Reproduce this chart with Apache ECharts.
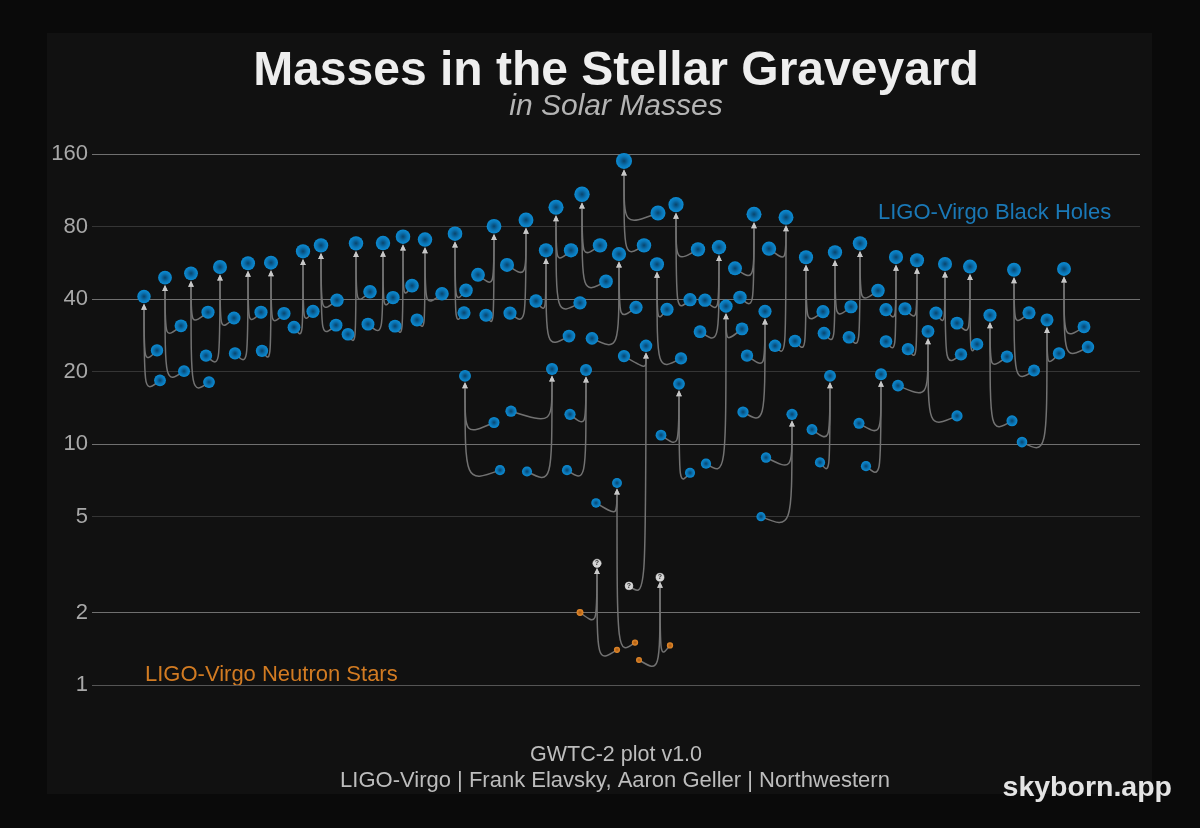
<!DOCTYPE html>
<html>
<head>
<meta charset="utf-8">
<script src="https://cdn.jsdelivr.net/npm/echarts/dist/echarts.min.js"></script>
<style>
  html, body { margin: 0; padding: 0; background: #0a0a0a; }
  #chart { width: 1200px; height: 828px; }
</style>
</head>
<body>
<div id="chart"></div>
<script>
// one entry per merger: final object, then its two progenitors
// positions are layout slots along the (hidden) horizontal axis
const finalPos = [5.2, 7.3, 9.9, 12.8, 15.6, 17.9, 21.1, 22.9, 26.4, 29.1, 31.1, 33.3, 36.3, 40.2, 43.4, 45.4, 46.4, 49.0, 53.2, 52.7, 58.4, 56.5, 46.0, 49.4, 58.7, 52.5, 55.4, 62.7, 66.2, 69.4, 63.4, 67.3, 71.4, 74.3, 76.8, 80.4, 70.0, 73.8, 78.9, 82.5, 85.3, 87.8, 83.6, 89.8, 92.2, 95.5, 97.2, 50.5, 56.8, 37.3]
const finalMass = [41.0, 49.1, 51.2, 54.4, 56.4, 56.7, 63.2, 66.9, 68.2, 68.4, 72.7, 70.7, 74.8, 80.3, 85.3, 63.8, 96.3, 109.0, 149.9, 61.6, 98.7, 55.8, 20.5, 20.3, 17.8, 6.9, 25.6, 65.7, 90.0, 87.5, 37.4, 35.6, 59.7, 62.6, 68.2, 59.8, 13.3, 19.2, 19.5, 58.0, 56.0, 54.6, 29.4, 34.3, 53.0, 32.8, 53.4, 3.2, 2.8, 19.2]
const compAPos = [6.5, 8.9, 11.6, 11.4, 14.3, 17.0, 20.2, 24.5, 25.6, 27.6, 30.3, 32.5, 37.2, 38.6, 41.5, 44.4, 47.9, 50.8, 56.6, 50.0, 60.6, 57.5, 41.9, 47.8, 56.9, 50.4, 53.2, 61.3, 64.3, 67.7, 65.0, 65.5, 70.3, 73.2, 75.7, 79.4, 67.4, 72.0, 76.7, 81.3, 84.4, 86.5, 80.6, 91.5, 93.7, 96.7, 99.2, 48.8, 54.7, 40.2]
const compAMass = [24.5, 31.0, 35.3, 23.3, 23.8, 24.4, 30.6, 39.6, 28.6, 31.5, 30.9, 32.8, 35.1, 50.5, 55.5, 39.3, 63.8, 66.9, 91.2, 27.5, 64.4, 36.3, 13.7, 13.3, 10.9, 5.7, 23.2, 39.6, 53.7, 64.8, 30.1, 23.3, 26.8, 28.9, 27.8, 36.2, 8.8, 11.5, 12.2, 36.5, 35.0, 31.8, 17.5, 23.1, 35.1, 23.8, 30.7, 2.0, 1.27, 12.3]
const compBPos = [6.8, 9.2, 11.7, 14.2, 16.9, 19.2, 22.1, 24.4, 27.8, 30.1, 32.0, 35.0, 37.4, 39.4, 41.8, 47.7, 48.8, 51.4, 55.2, 54.4, 59.8, 58.9, 43.5, 47.5, 59.8, 54.3, 53.7, 60.8, 64.8, 68.3, 61.4, 65.1, 73.1, 75.9, 78.6, 79.4, 66.9, 72.8, 77.4, 81.6, 86.9, 88.5, 86.5, 92.0, 94.2, 93.0, 99.6, 52.5, 57.8, 40.8]
const compBMass = [18.4, 20.1, 18.1, 33.4, 35.3, 34.9, 35.6, 31.2, 42.9, 40.6, 45.5, 42.1, 43.5, 34.3, 35.0, 28.1, 38.6, 47.4, 66.9, 37.0, 39.8, 22.7, 7.7, 7.8, 7.6, 1.5, 2.58, 29.3, 40.7, 25.6, 8.3, 13.6, 35.5, 37.2, 43.4, 26.7, 5.0, 8.4, 8.1, 24.8, 23.6, 26.0, 13.1, 12.5, 20.2, 10.2, 25.3, 1.4, 1.46, 7.8]

const tickMasses = [1, 2, 5, 10, 20, 40, 80, 160]

const FONT = '"Liberation Sans", Arial, sans-serif'

// neutron star / mass-gap / black hole
const kindOf = (m) => (m < 2.2 ? 'ns' : m < 4.5 ? 'gap' : 'bh')
const markerSize = (m) => 6 + 1.38 * Math.log2(m)

const links = []
const points = { bh: [], ns: [], gap: [] }
finalPos.forEach((x, i) => {
  const yf = Math.log2(finalMass[i])
  links.push([compAPos[i], Math.log2(compAMass[i]), x, yf, finalMass[i]])
  links.push([compBPos[i], Math.log2(compBMass[i]), x, yf, finalMass[i]])
  points[kindOf(finalMass[i])].push([x, yf, finalMass[i]])
  points[kindOf(compAMass[i])].push([compAPos[i], Math.log2(compAMass[i]), compAMass[i]])
  points[kindOf(compBMass[i])].push([compBPos[i], Math.log2(compBMass[i]), compBMass[i]])
})

const radial = (stops) => ({
  type: 'radial', x: 0.5, y: 0.5, r: 0.5,
  colorStops: stops.map(([offset, color]) => ({ offset, color })),
})

const chart = echarts.init(document.getElementById('chart'))
chart.setOption({
  backgroundColor: '#0a0a0a',
  animation: false,
  grid: { left: 92, right: 60, top: 140, height: 560 },
  xAxis: { type: 'value', min: 0, max: 104.8, show: false },
  yAxis: {
    type: 'value',
    min: -0.207,
    max: 7.517,
    axisLine: { show: false },
    axisTick: { show: false, customValues: tickMasses.map(Math.log2) },
    axisLabel: {
      customValues: tickMasses.map(Math.log2),
      formatter: (v) => String(Math.round(Math.pow(2, v))),
      color: '#a8a8a8',
      fontSize: 22,
      fontFamily: FONT,
      margin: 4,
    },
    splitLine: {
      lineStyle: {
        color: ['#555', '#707070', '#353535', '#707070', '#353535', '#707070', '#353535', '#707070'],
        width: 1,
      },
    },
  },
  graphic: [
    { type: 'rect', z: -10, shape: { x: 47, y: 33, width: 1105, height: 761 }, style: { fill: '#111111' } },
    { type: 'text', x: 616, y: 72, style: { text: 'Masses in the Stellar Graveyard', fill: '#eeeeee', font: 'bold 48px ' + FONT, align: 'center', verticalAlign: 'middle' } },
    { type: 'text', x: 616, y: 107, style: { text: 'in Solar Masses', fill: '#b4b4b4', font: 'italic 30px ' + FONT, align: 'center', verticalAlign: 'middle' } },
    { type: 'text', x: 878, y: 213, style: { text: 'LIGO-Virgo Black Holes', fill: '#1a78b6', font: '22px ' + FONT, align: 'left', verticalAlign: 'middle' } },
    { type: 'text', x: 145, y: 675, style: { text: 'LIGO-Virgo Neutron Stars', fill: '#d27b22', font: '22px ' + FONT, align: 'left', verticalAlign: 'middle' } },
    { type: 'text', x: 616, y: 755, style: { text: 'GWTC-2 plot v1.0', fill: '#bdbdbd', font: '21.5px ' + FONT, align: 'center', verticalAlign: 'middle' } },
    { type: 'text', x: 615, y: 781, style: { text: 'LIGO-Virgo | Frank Elavsky, Aaron Geller | Northwestern', fill: '#bdbdbd', font: '22px ' + FONT, align: 'center', verticalAlign: 'middle' } },
    { type: 'text', x: 1172, y: 788, style: { text: 'skyborn.app', fill: '#e4e4e4', font: 'bold 28.5px ' + FONT, align: 'right', verticalAlign: 'middle' } },
  ],
  series: [
    {
      type: 'custom',
      z: 1,
      data: links,
      renderItem(params, api) {
        const from = api.coord([api.value(0), api.value(1)])
        const to = api.coord([api.value(2), api.value(3)])
        const r = markerSize(api.value(4)) / 2
        const tipY = to[1] + r + 0.5
        const baseY = tipY + 6
        const k = 13
        return {
          type: 'group',
          children: [
            {
              type: 'bezierCurve',
              shape: {
                x1: from[0], y1: from[1],
                cpx1: to[0], cpy1: from[1] + k,
                cpx2: to[0], cpy2: from[1] + k,
                x2: to[0], y2: baseY,
              },
              style: { stroke: '#727272', lineWidth: 1.5, fill: null },
            },
            {
              type: 'polygon',
              shape: { points: [[to[0], tipY], [to[0] - 2.8, baseY], [to[0] + 2.8, baseY]] },
              style: { fill: '#c8c8c8' },
            },
          ],
        }
      },
    },
    {
      type: 'scatter',
      z: 3,
      data: points.bh,
      symbolSize: (v) => markerSize(v[2]),
      itemStyle: { color: radial([[0, '#08446c'], [0.55, '#0a73b3'], [1, '#0c8dd5']]), opacity: 1 },
    },
    {
      type: 'scatter',
      z: 3,
      data: points.ns,
      symbolSize: (v) => markerSize(v[2]) - 0.5,
      itemStyle: { color: radial([[0, '#a85a12'], [1, '#e88c2c']]), opacity: 1 },
    },
    {
      type: 'scatter',
      z: 3,
      data: points.gap,
      symbolSize: (v) => markerSize(v[2]),
      itemStyle: { color: '#d4d4d4', borderColor: '#eeeeee', borderWidth: 0.5, opacity: 1 },
      label: { show: true, position: 'inside', formatter: '?', color: '#333', fontSize: 7, fontWeight: 'bold' },
    },
  ],
})
</script>
</body>
</html>
